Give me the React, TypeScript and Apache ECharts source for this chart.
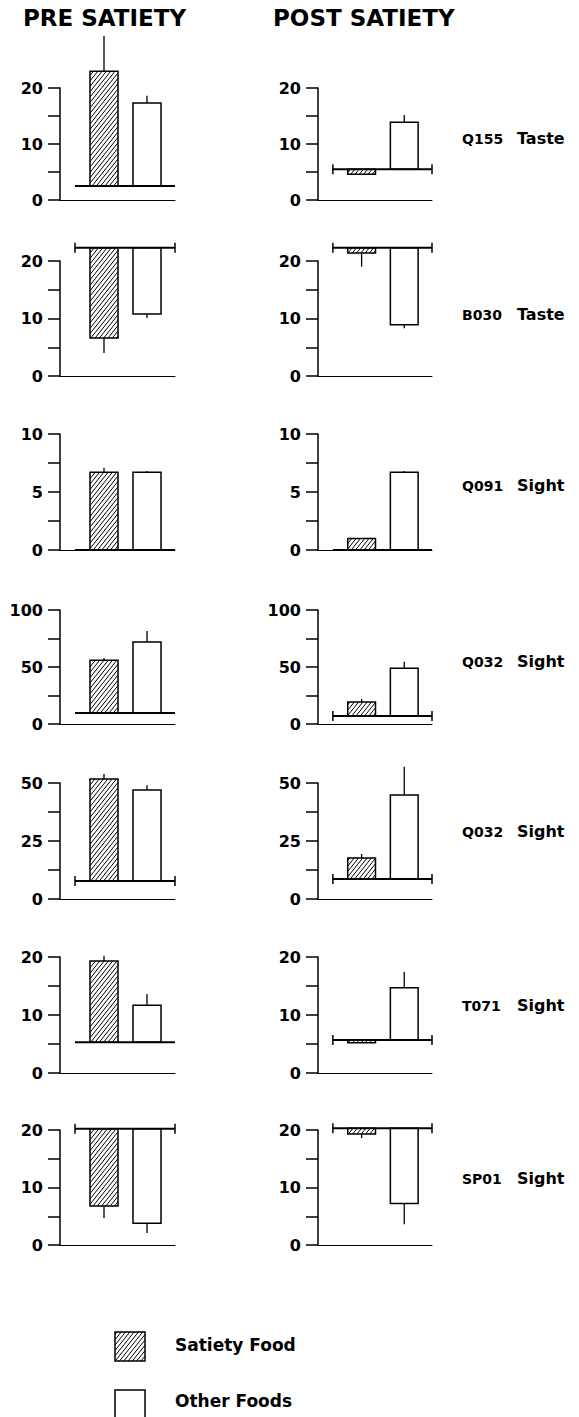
import React, { useEffect, useRef } from "react";
import * as echarts from "echarts";

// ---------- data ----------
const neurons = ["Q155", "B030", "Q091", "Q032", "Q032", "T071", "SP01"];
const modalities = ["Taste", "Taste", "Sight", "Sight", "Sight", "Sight", "Sight"];
const axisMax = [20, 20, 10, 100, 50, 20, 20];
const axisInterval = [10, 10, 5, 50, 25, 10, 10];

// PRE SATIETY
const preBase = [2.5, 22.3, 0, 9.6, 7.8, 5.3, 20.2];
const preBaseCaps = [0, 1, 0, 0, 1, 0, 1];
const preSatiety = [23.0, 6.6, 6.7, 56, 51.7, 19.3, 6.8];
const preSatietyErr = [29.3, 4.0, 7.1, 58, 53.9, 20.2, 4.7];
const preOther = [17.3, 10.8, 6.7, 72, 47, 11.7, 3.8];
const preOtherErr = [18.6, 10.1, 6.8, 81.5, 49, 13.6, 2.1];

// POST SATIETY
const postBase = [5.5, 22.3, 0, 7, 8.6, 5.7, 20.3];
const postBaseCaps = [1, 1, 0, 1, 1, 1, 1];
const postSatiety = [4.6, 21.4, 1.0, 19.3, 17.7, 5.2, 19.3];
const postSatietyErr = [4.6, 19.0, 1.0, 22, 19.4, 5.2, 18.6];
const postOther = [13.9, 8.9, 6.7, 49, 44.8, 14.7, 7.2];
const postOtherErr = [15.2, 8.3, 6.8, 54.5, 57, 17.4, 3.6];

const columnTitles = ["PRE SATIETY", "POST SATIETY"];
const legendLabels = ["Satiety Food", "Other Foods"];

// ---------- layout ----------
const W = 579;
const H = 1417;
const FONT = '"DejaVu Sans", sans-serif';
const rowTop = [88, 261, 434, 610, 783, 957, 1130];
const rowZero = [200, 376, 550, 724, 899, 1073, 1245];
const labelY = [140, 316, 487, 663, 833, 1007, 1180];
const colLeft = [60, 318];
const colWidth = [115, 114];
const X_MAX = 115;
const X_SAT = 44;
const X_OTH = 87;
const BAR_HALF = 14;
const BASE_X0 = 15;
const BASE_X1 = 115;

function hatchSegments(x0: number, y0: number, x1: number, y1: number, spacing: number, slope: number) {
  const segs: number[][] = [];
  const cMin = y0 + slope * x0;
  const cMax = y1 + slope * x1;
  const step = spacing * slope;
  const start = Math.ceil(cMin / step) * step;
  for (let c = start; c < cMax; c += step) {
    const xa = Math.max(x0, (c - y1) / slope);
    const xb = Math.min(x1, (c - y0) / slope);
    if (xb > xa + 0.3) segs.push([xa, c - slope * xa, xb, c - slope * xb]);
  }
  return segs;
}

const barRender = (params: any, api: any) => {
  const cx = api.value(0);
  const base = api.value(1);
  const val = api.value(2);
  const err = api.value(3);
  const hatched = api.value(4);
  const pa = api.coord([cx - BAR_HALF, base]);
  const pb = api.coord([cx + BAR_HALF, val]);
  const pc = api.coord([cx, val]);
  const pe = api.coord([cx, err]);
  const x0 = Math.min(pa[0], pb[0]);
  const x1 = Math.max(pa[0], pb[0]);
  const y0 = Math.min(pa[1], pb[1]);
  const y1 = Math.max(pa[1], pb[1]);
  const children: any[] = [
    {
      type: "rect",
      shape: { x: x0, y: y0, width: x1 - x0, height: y1 - y0 },
      style: { fill: "#fff", stroke: "#000", lineWidth: 1.5 },
    },
  ];
  if (hatched) {
    hatchSegments(x0, y0, x1, y1, 4.3, 1.25).forEach((s) => {
      children.push({
        type: "line",
        shape: { x1: s[0], y1: s[1], x2: s[2], y2: s[3] },
        style: { stroke: "#000", lineWidth: 1 },
      });
    });
  }
  if (Math.abs(pe[1] - pc[1]) > 0.5) {
    children.push({
      type: "line",
      shape: { x1: pc[0], y1: pc[1], x2: pe[0], y2: pe[1] },
      style: { stroke: "#000", lineWidth: 1.3 },
    });
  }
  return { type: "group", children };
};

const baseRender = (params: any, api: any) => {
  const p0 = api.coord([api.value(0), api.value(2)]);
  const p1 = api.coord([api.value(1), api.value(2)]);
  const caps = api.value(3);
  const children: any[] = [
    {
      type: "line",
      shape: { x1: p0[0], y1: p0[1], x2: p1[0], y2: p1[1] },
      style: { stroke: "#000", lineWidth: 2 },
    },
  ];
  if (caps) {
    [p0, p1].forEach((p) =>
      children.push({
        type: "line",
        shape: { x1: p[0], y1: p[1] - 5, x2: p[0], y2: p[1] + 5 },
        style: { stroke: "#000", lineWidth: 1.5 },
      })
    );
  }
  return { type: "group", children };
};

function buildOption() {
  const grid: any[] = [];
  const xAxis: any[] = [];
  const yAxis: any[] = [];
  const series: any[] = [];
  const graphic: any[] = [];

  for (let r = 0; r < 7; r++) {
    for (let c = 0; c < 2; c++) {
      const gi = r * 2 + c;
      grid.push({
        left: colLeft[c],
        top: rowTop[r],
        width: colWidth[c],
        height: rowZero[r] - rowTop[r],
      });
      xAxis.push({
        gridIndex: gi,
        type: "value",
        min: 0,
        max: X_MAX,
        axisLine: { show: true, onZero: false, lineStyle: { color: "#000", width: 1 } },
        axisTick: { show: false },
        axisLabel: { show: false },
        splitLine: { show: false },
      });
      yAxis.push({
        gridIndex: gi,
        type: "value",
        min: 0,
        max: axisMax[r],
        interval: axisInterval[r],
        axisLine: { show: true, onZero: false, lineStyle: { color: "#000", width: 1.5 } },
        axisTick: { show: true, length: 12, lineStyle: { color: "#000", width: 1.5 } },
        minorTick: { show: true, splitNumber: 2, length: 12, lineStyle: { color: "#000", width: 1.5 } },
        axisLabel: {
          margin: 17,
          fontFamily: FONT,
          fontWeight: "bold",
          fontSize: 16,
          color: "#000",
        },
        splitLine: { show: false },
        minorSplitLine: { show: false },
      });
      const base = c ? postBase[r] : preBase[r];
      const caps = c ? postBaseCaps[r] : preBaseCaps[r];
      const sat = c ? postSatiety[r] : preSatiety[r];
      const satE = c ? postSatietyErr[r] : preSatietyErr[r];
      const oth = c ? postOther[r] : preOther[r];
      const othE = c ? postOtherErr[r] : preOtherErr[r];
      series.push({
        type: "custom",
        xAxisIndex: gi,
        yAxisIndex: gi,
        clip: false,
        silent: true,
        renderItem: barRender,
        encode: { x: 0, y: 2 },
        data: [
          [X_SAT, base, sat, satE, 1],
          [X_OTH, base, oth, othE, 0],
        ],
        z: 2,
      });
      series.push({
        type: "custom",
        xAxisIndex: gi,
        yAxisIndex: gi,
        clip: false,
        silent: true,
        renderItem: baseRender,
        encode: { x: [0, 1], y: 2 },
        data: [[BASE_X0, BASE_X1, base, caps]],
        z: 3,
      });
    }
    const ly = labelY[r];
    graphic.push({
      type: "text",
      left: 462,
      top: ly - 8,
      style: { text: neurons[r], font: `bold 14px ${FONT}`, fill: "#000" },
    });
    graphic.push({
      type: "text",
      left: 517,
      top: ly - 10,
      style: { text: modalities[r], font: `bold 16px ${FONT}`, fill: "#000" },
    });
  }

  graphic.push({
    type: "text",
    left: 23,
    top: 6,
    style: { text: columnTitles[0], font: `bold 23px ${FONT}`, fill: "#000" },
  });
  graphic.push({
    type: "text",
    left: 273,
    top: 6,
    style: { text: columnTitles[1], font: `bold 23px ${FONT}`, fill: "#000" },
  });

  // legend
  const lb = [
    { x: 115, y: 1332, w: 30, h: 29, hatched: true, ty: 1346 },
    { x: 115, y: 1390, w: 30, h: 29, hatched: false, ty: 1402 },
  ];
  lb.forEach((b, i) => {
    graphic.push({
      type: "rect",
      shape: { x: b.x, y: b.y, width: b.w, height: b.h },
      style: { fill: "#fff", stroke: "#000", lineWidth: 1.5 },
    });
    if (b.hatched) {
      hatchSegments(b.x, b.y, b.x + b.w, b.y + b.h, 4.3, 1.25).forEach((s) =>
        graphic.push({
          type: "line",
          shape: { x1: s[0], y1: s[1], x2: s[2], y2: s[3] },
          style: { stroke: "#000", lineWidth: 1 },
        })
      );
    }
    graphic.push({
      type: "text",
      left: 175,
      top: b.ty - 10,
      style: { text: legendLabels[i], font: `bold 17px ${FONT}`, fill: "#000" },
    });
  });

  return {
    animation: false,
    backgroundColor: "#fff",
    grid,
    xAxis,
    yAxis,
    series,
    graphic,
  };
}

export default function App() {
  const ref = useRef<HTMLDivElement>(null);
  useEffect(() => {
    const chart = echarts.init(ref.current!, null, { renderer: "svg", width: W, height: H });
    chart.setOption(buildOption() as any);
    return () => chart.dispose();
  }, []);
  return (
    <div
      ref={ref}
      style={{ position: "absolute", left: 0, top: 0, width: W, height: H, background: "#fff" }}
    />
  );
}
